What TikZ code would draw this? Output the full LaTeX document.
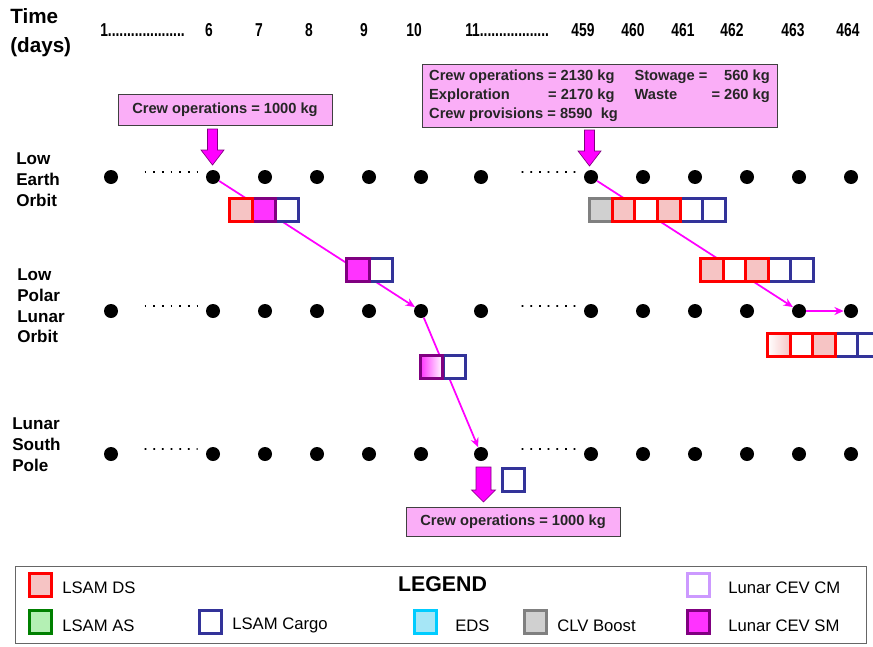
\documentclass[tikz,border=0pt]{standalone}
\usepackage{fontspec}
\setmainfont{Liberation Sans}
\newfontfamily\narrowfont[FakeStretch=0.74]{Liberation Sans}
\usetikzlibrary{arrows.meta,calc}

\definecolor{dsred}{HTML}{FF0000}
\definecolor{dsfill}{HTML}{F6C4C4}
\definecolor{smpurple}{HTML}{800080}
\definecolor{smfill}{HTML}{FF33FF}
\definecolor{cargoblue}{HTML}{333399}
\definecolor{clvgray}{HTML}{808080}
\definecolor{clvfill}{HTML}{D0D0D0}
\definecolor{asgreen}{HTML}{008000}
\definecolor{asfill}{HTML}{B4F0B4}
\definecolor{edscyan}{HTML}{00CCFF}
\definecolor{edsfill}{HTML}{A6E6F6}
\definecolor{cmlilac}{HTML}{CC99FF}
\definecolor{notefill}{HTML}{FAAEF7}
\definecolor{flow}{HTML}{FF00FF}

\begin{document}
\begin{tikzpicture}[x=0.75pt,y=-0.75pt,
  dot/.style={circle,fill=black,inner sep=0pt,minimum size=10.5pt},
  cell/.style={rectangle,inner sep=0pt,minimum width=16.9pt,minimum height=17.25pt,line width=2.25pt},
  dsbox/.style={cell,draw=dsred,fill=dsfill},
  dsemptybox/.style={cell,draw=dsred,fill=white},
  dsfadebox/.style={cell,draw=dsred,left color=white,right color=dsfill},
  smbox/.style={cell,draw=smpurple,fill=smfill},
  smfadebox/.style={cell,draw=smpurple,left color=smfill,right color=white},
  cargobox/.style={cell,draw=cargoblue,fill=white},
  clvbox/.style={cell,draw=clvgray,fill=clvfill},
  asbox/.style={cell,draw=asgreen,fill=asfill},
  edsbox/.style={cell,draw=edscyan,fill=edsfill},
  cmbox/.style={cell,draw=cmlilac,fill=white},
  flowline/.style={draw=flow,line width=1.3pt,-{Stealth[length=7pt,width=6pt]}},
  dotrun/.style={line width=1.3pt,dash pattern=on 1.3pt off 5.2pt},
  note/.style={draw=black!75,line width=0.6pt,fill=notefill,text=black!85,
    font=\bfseries\fontsize{11}{14.25}\selectfont,inner sep=0pt},
  blockarrow/.style={fill=flow,draw=smpurple,line width=0.5pt},
  rowlabel/.style={font=\bfseries\fontsize{12.8}{15.6}\selectfont,align=left,anchor=west,inner sep=0pt},
  head/.style={font=\narrowfont\bfseries\fontsize{14}{21.75}\selectfont,inner sep=0pt},
  timehead/.style={font=\bfseries\fontsize{15.5}{21.75}\selectfont,inner sep=0pt},
  legtext/.style={font=\fontsize{12.5}{15}\selectfont,anchor=west,inner sep=0pt},
  pics/downarrow/.style n args={4}{code={
    \path[blockarrow] (-#1/2,0) -- (#1/2,0) -- (#1/2,#3-#4) -- (#2/2,#3-#4)
      -- (0,#3) -- (-#2/2,#3-#4) -- (-#1/2,#3-#4) -- cycle;}},
]
\useasboundingbox (0,0) rectangle (873,646);

% time axis
\node[timehead,anchor=north west,align=left] (timelabel) at (10,8) {Time\\(days)};
\node[head,anchor=west] (h1) at (100,30) {1....................};
\node[head] (h6) at (209,30) {6};
\node[head] (h7) at (259,30) {7};
\node[head] (h8) at (309,30) {8};
\node[head] (h9) at (364,30) {9};
\node[head] (h10) at (414,30) {10};
\node[head,anchor=west] (h11) at (465,30) {11..................};
\node[head] (h459) at (583,30) {459};
\node[head] (h460) at (633,30) {460};
\node[head] (h461) at (683,30) {461};
\node[head] (h462) at (732,30) {462};
\node[head] (h463) at (793,30) {463};
\node[head] (h464) at (848,30) {464};

% location rows
\node[rowlabel] (leo) at (16,179.5) {Low\\Earth\\Orbit};
\node[rowlabel] (llo) at (17,306) {Low\\Polar\\Lunar\\Orbit};
\node[rowlabel] (lsp) at (12,445) {Lunar\\South\\Pole};

\foreach \c/\x in {1/111,6/213,7/265,8/317,9/369,10/421,11/481,459/591,460/643,461/695,462/747,463/799,464/851}{
  \node[dot] (E\c) at (\x,177) {};
  \node[dot] (P\c) at (\x,311) {};
  \node[dot] (S\c) at (\x,454) {};
}
\foreach \r in {E,P,S}{
  \draw[dotrun] ($(\r1)!0.33!(\r6)+(0,-5)$) -- ($(\r1)!0.85!(\r6)+(0,-5)$);
  \draw[dotrun] ($(\r11)!0.37!(\r459)+(0,-5)$) -- ($(\r11)!0.86!(\r459)+(0,-5)$);
}

% transfers
\draw[flowline] (E6) -- (P10);
\draw[flowline] (P10) -- (S11);
\draw[flowline] (E459) -- (P463);
\draw[flowline] (P463) -- (P464);

% stacks in transit
\node[cargobox] (g1c) at (287,210) {};
\node[smbox] (g1b) at (264,210) {};
\node[dsbox] (g1a) at (241,210) {};

\node[cargobox] (g2b) at (381,270) {};
\node[smbox] (g2a) at (358,270) {};

\node[cargobox] (g3b) at (454.5,366.5) {};
\node[smfadebox] (g3a) at (431.5,366.5) {};

\node[cargobox] (g4f) at (714,210) {};
\node[cargobox] (g4e) at (691.4,210) {};
\node[clvbox] (g4a) at (601,210) {};
\node[dsbox] (g4b) at (623.6,210) {};
\node[dsemptybox] (g4c) at (646.2,210) {};
\node[dsbox] (g4d) at (668.8,210) {};

\node[cargobox] (g5e) at (802,270) {};
\node[cargobox] (g5d) at (779.5,270) {};
\node[dsbox] (g5a) at (712,270) {};
\node[dsemptybox] (g5b) at (734.5,270) {};
\node[dsbox] (g5c) at (757,270) {};

\node[cargobox] (g6e) at (869,345) {};
\node[cargobox] (g6d) at (846.5,345) {};
\node[dsfadebox] (g6a) at (779,345) {};
\node[dsemptybox] (g6b) at (801.5,345) {};
\node[dsbox] (g6c) at (824,345) {};

\node[cargobox] (lspcargo) at (513.5,479.5) {};

% delivered payloads
\node[note,minimum width=160.5pt,minimum height=23.25pt] (noteA) at (225,109.5) {Crew operations = 1000 kg};
\pic (arrA) at (212.5,129) {downarrow={10}{23}{36}{15}};

\node[note,minimum width=266.25pt,minimum height=47.25pt] (noteB) at (599.5,95.5) {%
  \begin{tabular}{@{}l@{\hspace{3pt}}r@{\hspace{15pt}}l@{\hspace{3pt}}r@{}}
  Crew operations & = 2130 kg & Stowage = & 560 kg\\
  Exploration & = 2170 kg & Waste & = 260 kg\\
  \multicolumn{2}{@{}l}{Crew provisions = 8590\ \ kg} & & \\
  \end{tabular}};
\pic (arrB) at (589.5,130) {downarrow={10}{23}{36}{15}};

\pic (arrC) at (483.5,467) {downarrow={15}{24}{35}{12}};
\node[note,minimum width=160.5pt,minimum height=21.75pt] (noteC) at (513,521.5) {Crew operations = 1000 kg};

% legend
\node[draw=black!60,line width=0.75pt,minimum width=638.25pt,minimum height=57.75pt,inner sep=0pt] (legendbox) at (440.5,604.5) {};
\node[font=\bfseries\fontsize{16}{19}\selectfont,inner sep=0pt] (legendtitle) at (442.5,584.5) {LEGEND};
\node[dsbox] (kds) at (40.5,584.5) {};
\node[legtext] (tds) at (62,588) {LSAM DS};
\node[asbox] (kas) at (40.5,621.5) {};
\node[legtext] (tas) at (62,625.5) {LSAM AS};
\node[cargobox] (kcargo) at (210.5,621.5) {};
\node[legtext] (tcargo) at (232,625.5) {LSAM Cargo};
\node[edsbox] (keds) at (425.5,621.5) {};
\node[legtext] (teds) at (455,625.5) {EDS};
\node[clvbox] (kclv) at (535.5,621.5) {};
\node[legtext] (tclv) at (557,625.5) {CLV Boost};
\node[cmbox] (kcm) at (698.5,584.5) {};
\node[legtext] (tcm) at (728,588) {Lunar CEV CM};
\node[smbox] (ksm) at (698.5,621.5) {};
\node[legtext] (tsm) at (728,625.5) {Lunar CEV SM};
\end{tikzpicture}
\end{document}
